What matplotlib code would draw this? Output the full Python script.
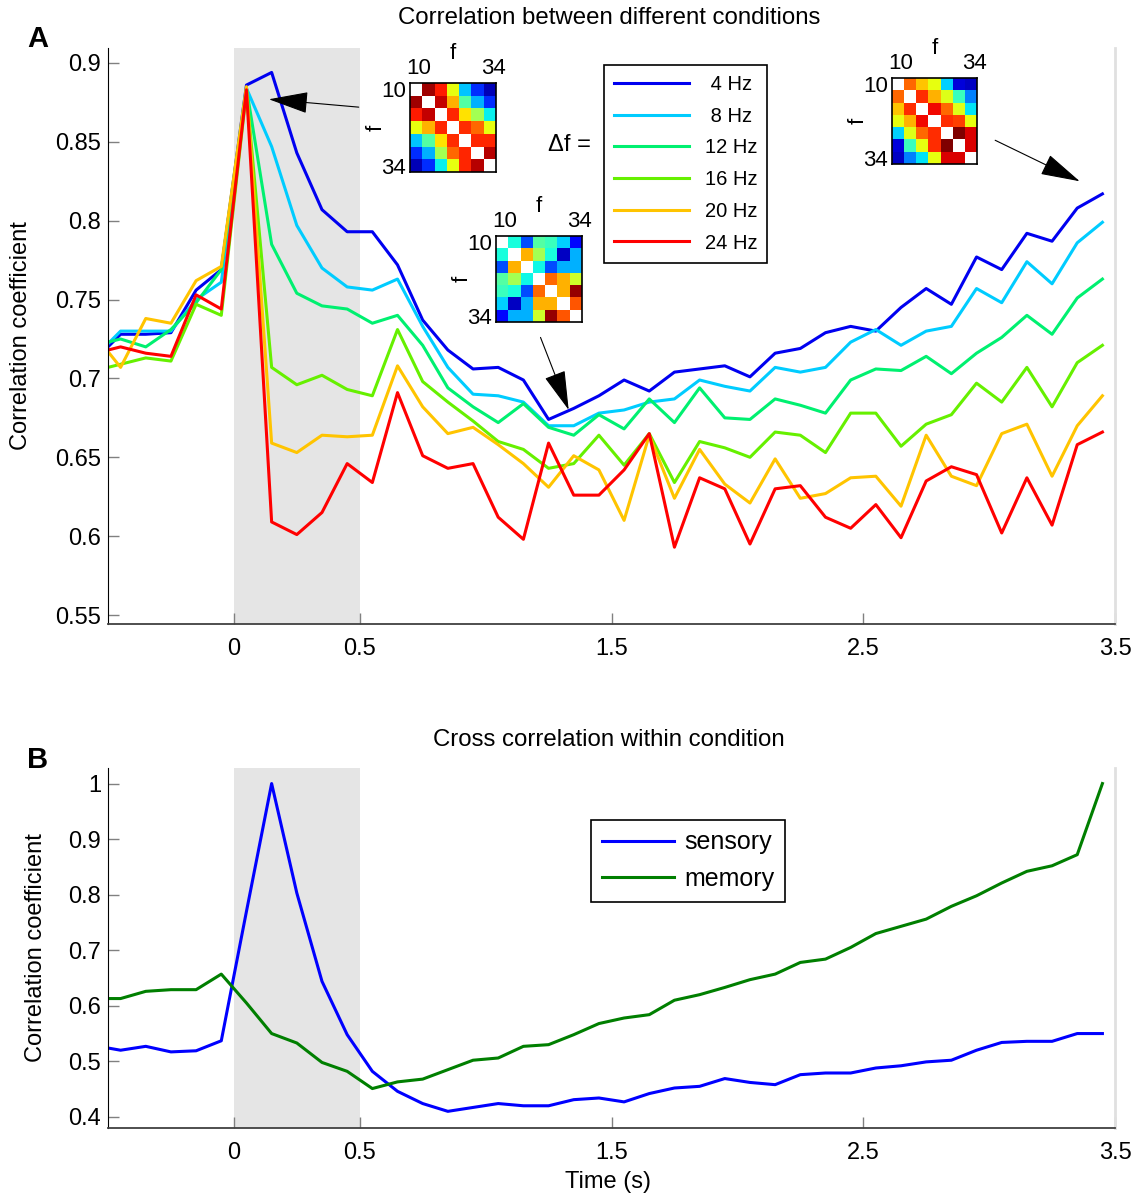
import numpy as np
import matplotlib
matplotlib.use("Agg")
import matplotlib.pyplot as plt
from matplotlib import ticker

plt.rcParams['font.family'] = ['Liberation Sans', 'DejaVu Sans']

# time axis: edge sample, then bins centred every 0.1 s
time = np.concatenate([[-0.5], np.round(np.arange(-0.45, 3.5, 0.1), 2)])

# panel A: correlation between conditions for each frequency spacing
df_labels = ['4 Hz', '8 Hz', '12 Hz', '16 Hz', '20 Hz', '24 Hz']
df_colors = ['#0000f0', '#00ccff', '#00f070', '#66f000', '#ffc400', '#ff0000']
corr_4 = [0.720, 0.728, 0.728, 0.729, 0.756, 0.769, 0.886, 0.894, 0.843, 0.807, 0.793,
          0.793, 0.772, 0.737, 0.718, 0.706, 0.707, 0.699, 0.674, 0.681, 0.689, 0.699,
          0.692, 0.704, 0.706, 0.708, 0.701, 0.716, 0.719, 0.729, 0.733, 0.730, 0.745,
          0.757, 0.747, 0.777, 0.769, 0.792, 0.787, 0.808, 0.817]
corr_8 = [0.722, 0.730, 0.730, 0.730, 0.750, 0.761, 0.884, 0.847, 0.797, 0.770, 0.758,
          0.756, 0.763, 0.733, 0.707, 0.690, 0.689, 0.685, 0.670, 0.670, 0.678, 0.680,
          0.685, 0.687, 0.699, 0.695, 0.692, 0.707, 0.704, 0.707, 0.723, 0.731, 0.721,
          0.730, 0.733, 0.757, 0.748, 0.774, 0.760, 0.786, 0.799]
corr_12 = [0.723, 0.725, 0.720, 0.731, 0.748, 0.769, 0.884, 0.785, 0.754, 0.746, 0.744,
           0.735, 0.740, 0.721, 0.694, 0.682, 0.672, 0.684, 0.669, 0.664, 0.677, 0.668,
           0.687, 0.672, 0.694, 0.675, 0.674, 0.687, 0.683, 0.678, 0.699, 0.706, 0.705,
           0.714, 0.703, 0.716, 0.726, 0.740, 0.728, 0.751, 0.763]
corr_16 = [0.707, 0.709, 0.713, 0.711, 0.747, 0.740, 0.882, 0.707, 0.696, 0.702, 0.693,
           0.689, 0.731, 0.698, 0.685, 0.673, 0.660, 0.655, 0.643, 0.646, 0.664, 0.645,
           0.665, 0.634, 0.660, 0.656, 0.650, 0.666, 0.664, 0.653, 0.678, 0.678, 0.657,
           0.671, 0.677, 0.697, 0.685, 0.707, 0.682, 0.710, 0.721]
corr_20 = [0.717, 0.707, 0.738, 0.735, 0.762, 0.771, 0.885, 0.659, 0.653, 0.664, 0.663,
           0.664, 0.708, 0.682, 0.665, 0.669, 0.658, 0.646, 0.631, 0.651, 0.642, 0.610,
           0.664, 0.624, 0.655, 0.633, 0.621, 0.649, 0.624, 0.627, 0.637, 0.638, 0.619,
           0.664, 0.638, 0.632, 0.665, 0.671, 0.638, 0.670, 0.689]
corr_24 = [0.718, 0.720, 0.716, 0.714, 0.753, 0.744, 0.883, 0.609, 0.601, 0.615, 0.646,
           0.634, 0.691, 0.651, 0.643, 0.646, 0.612, 0.598, 0.659, 0.626, 0.626, 0.642,
           0.665, 0.593, 0.637, 0.630, 0.595, 0.630, 0.632, 0.612, 0.605, 0.620, 0.599,
           0.635, 0.644, 0.639, 0.602, 0.637, 0.607, 0.658, 0.666]
corr_all = [corr_4, corr_8, corr_12, corr_16, corr_20, corr_24]

# panel B: cross correlation within condition
sensory = [0.524, 0.520, 0.527, 0.517, 0.519, 0.537, 0.770, 1.000, 0.803, 0.644, 0.548,
           0.482, 0.446, 0.424, 0.410, 0.417, 0.424, 0.420, 0.420, 0.431, 0.434, 0.427,
           0.442, 0.452, 0.455, 0.469, 0.462, 0.458, 0.476, 0.479, 0.479, 0.488, 0.492,
           0.499, 0.502, 0.520, 0.534, 0.536, 0.536, 0.550, 0.550]
memory = [0.613, 0.613, 0.626, 0.629, 0.629, 0.657, 0.605, 0.550, 0.533, 0.498, 0.482,
          0.451, 0.463, 0.468, 0.485, 0.502, 0.506, 0.527, 0.530, 0.548, 0.568, 0.578,
          0.584, 0.610, 0.620, 0.633, 0.647, 0.657, 0.678, 0.684, 0.705, 0.730, 0.743,
          0.756, 0.779, 0.798, 0.821, 0.842, 0.852, 0.872, 1.000]

# small frequency x frequency correlation matrices (diagonal left blank)
mat_early = [[np.nan, 0.97, 0.88, 0.63, 0.32, 0.17, 0.05],
             [0.97, np.nan, 0.94, 0.72, 0.45, 0.30, 0.17],
             [0.88, 0.94, np.nan, 0.87, 0.67, 0.55, 0.36],
             [0.63, 0.72, 0.87, np.nan, 0.86, 0.80, 0.63],
             [0.32, 0.45, 0.67, 0.86, np.nan, 0.87, 0.87],
             [0.17, 0.30, 0.55, 0.80, 0.87, np.nan, 0.95],
             [0.05, 0.17, 0.36, 0.63, 0.87, 0.95, np.nan]]
mat_mid = [[np.nan, 0.38, 0.20, 0.45, 0.42, 0.33, 0.13],
           [0.38, np.nan, 0.72, 0.55, 0.38, 0.06, 0.30],
           [0.20, 0.72, np.nan, 0.37, 0.20, 0.30, 0.30],
           [0.45, 0.55, 0.37, np.nan, 0.80, 0.72, 0.60],
           [0.42, 0.38, 0.20, 0.80, np.nan, 0.72, 0.98],
           [0.33, 0.06, 0.30, 0.72, 0.72, np.nan, 0.82],
           [0.13, 0.30, 0.30, 0.60, 0.98, 0.82, np.nan]]
mat_late = [[np.nan, 0.80, 0.70, 0.63, 0.33, 0.08, 0.06],
            [0.80, np.nan, 0.86, 0.72, 0.62, 0.42, 0.25],
            [0.70, 0.86, np.nan, 0.90, 0.80, 0.62, 0.35],
            [0.63, 0.72, 0.90, np.nan, 0.86, 0.84, 0.63],
            [0.33, 0.62, 0.80, 0.86, np.nan, 1.00, 0.92],
            [0.08, 0.42, 0.63, 0.86, 1.00, np.nan, 0.92],
            [0.06, 0.25, 0.35, 0.63, 0.92, 0.92, np.nan]]

W, H = 1138, 1198
fig = plt.figure(figsize=(W / 100, H / 100), dpi=100)


def fx(x):
    return x / W


def fy(y):
    return 1 - y / H


def style_axes(ax):
    ax.axvspan(0, 0.5, color='#e5e5e5', zorder=0, lw=0)
    ax.set_xlim(-0.5, 3.5)
    ax.set_xticks([0, 0.5, 1.5, 2.5, 3.5])
    ax.xaxis.set_major_formatter(ticker.FormatStrFormatter('%g'))
    ax.yaxis.set_major_formatter(ticker.FormatStrFormatter('%g'))
    ax.spines['top'].set_visible(False)
    ax.spines['right'].set_color('#e0e0e0')
    ax.spines['right'].set_linewidth(2)
    ax.spines['left'].set_color('black')
    ax.spines['bottom'].set_color('#404040')
    ax.spines['bottom'].set_linewidth(1.3)
    ax.tick_params(direction='in', length=8, width=1, color='#808080',
                   labelsize=17, right=False, top=False)
    ax.tick_params(axis='x', pad=10)
    ax.tick_params(axis='y', pad=5)


# ---- panel A
axA = fig.add_axes([fx(108), fy(624), fx(1115 - 108), (624 - 48) / H])
style_axes(axA)
lines = []
for vals, lab, col in zip(corr_all, df_labels, df_colors):
    # legend text is centred in the original, pad the short labels
    shown = ' ' + lab if len(lab) < 5 else lab
    ln, = axA.plot(time, vals, color=col, lw=2.2, label=shown)
    lines.append(ln)
axA.set_ylim(0.5443, 0.9095)
axA.set_yticks(np.arange(0.55, 0.91, 0.05))
axA.set_ylabel('Correlation coefficient', fontsize=17)
axA.yaxis.set_label_coords(-0.0755, 0.5)

legA = fig.legend(handles=lines, loc='upper left', bbox_to_anchor=(fx(604), fy(65)),
                  bbox_transform=fig.transFigure, borderaxespad=0, fontsize=14.5,
                  frameon=True, fancybox=False, framealpha=1, edgecolor='black',
                  handlelength=3.7, handletextpad=0.8, labelspacing=0.63, borderpad=0.5)
legA.get_frame().set_linewidth(1.2)
fig.text(fx(569), fy(145), '\u0394f =', fontsize=17, ha='center', va='center')

fig.text(fx(609), fy(18), 'Correlation between different conditions', fontsize=17.3,
         ha='center', va='center')
fig.text(fx(38), fy(39), 'A', fontsize=21, fontweight='bold', ha='center', va='center')

# arrows from the matrices to the time points
arrow = dict(arrowstyle='-|>,head_length=1.1,head_width=0.3', color='black', lw=0.8,
             mutation_scale=23, shrinkA=0, shrinkB=0)
axA.annotate('', xy=(0.139, 0.877), xytext=(0.496, 0.872), arrowprops=arrow)
axA.annotate('', xy=(1.33, 0.680), xytext=(1.218, 0.726), arrowprops=arrow)
axA.annotate('', xy=(3.36, 0.825), xytext=(3.024, 0.851), arrowprops=arrow)

# insets
cmap = plt.get_cmap('jet').copy()
cmap.set_bad('white')
for mat, (x0, y0, x1, y1) in zip([mat_early, mat_mid, mat_late],
                                  [(410, 83, 496, 172), (496, 236, 582, 322),
                                   (892, 78, 977, 164)]):
    axi = fig.add_axes([fx(x0), fy(y1), fx(x1 - x0), (y1 - y0) / H])
    axi.imshow(np.ma.masked_invalid(np.array(mat)), cmap=cmap, vmin=0, vmax=1,
               aspect='auto', interpolation='nearest')
    axi.set_xticks([0.2, 6.3])
    axi.set_xticklabels(['10', '34'])
    axi.set_yticks([0, 6])
    axi.set_yticklabels(['10', '34'])
    axi.xaxis.tick_top()
    axi.xaxis.set_label_position('top')
    axi.tick_params(length=0, labelsize=16, pad=3)
    axi.set_xlabel('f', fontsize=16, labelpad=-1)
    axi.set_ylabel('f', fontsize=16, labelpad=-4)
    for sp in axi.spines.values():
        sp.set_linewidth(1.2)

# ---- panel B
axB = fig.add_axes([fx(108), fy(1128), fx(1115 - 108), (1128 - 768) / H])
style_axes(axB)
axB.plot(time, sensory, color='#0000ff', lw=2.2, label='sensory')
axB.plot(time, memory, color='#007f00', lw=2.2, label='memory')
axB.set_ylim(0.38, 1.028)
axB.set_yticks(np.arange(0.4, 1.01, 0.1))
axB.set_ylabel('Correlation coefficient', fontsize=17)
axB.yaxis.set_label_coords(-0.061, 0.5)
axB.set_xlabel('Time (s)', fontsize=17)
axB.xaxis.set_label_coords(0.497, -0.12)
legB = axB.legend(loc='upper left', bbox_to_anchor=(fx(591), fy(820)),
                  bbox_transform=fig.transFigure, borderaxespad=0, fontsize=18,
                  frameon=True, fancybox=False, framealpha=1, edgecolor='black',
                  handlelength=2.9, handletextpad=0.4, labelspacing=0.5, borderpad=0.42)
legB.get_frame().set_linewidth(1.2)

fig.text(fx(609), fy(740), 'Cross correlation within condition', fontsize=17.3,
         ha='center', va='center')
fig.text(fx(38), fy(760), 'B', fontsize=21, fontweight='bold', ha='center', va='center')

fig.savefig('out.png', dpi=100)
